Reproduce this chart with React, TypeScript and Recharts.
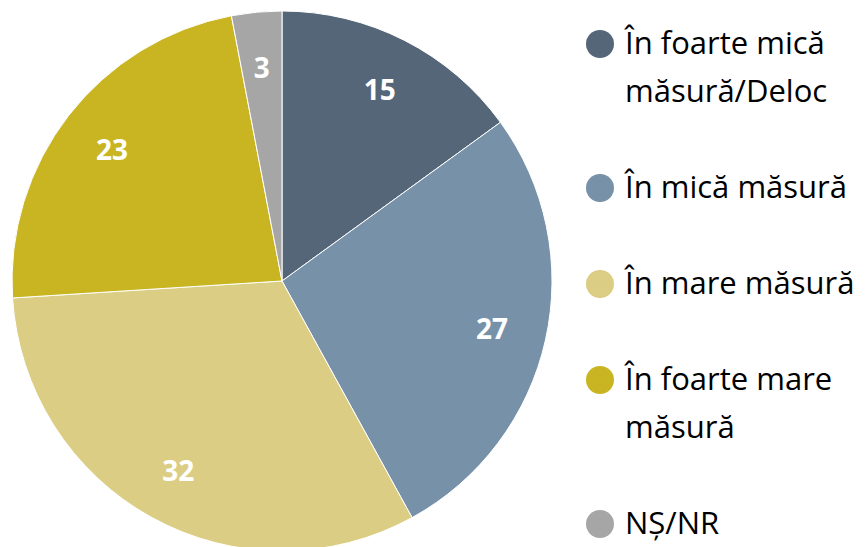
import React from 'react';
import { PieChart, Pie, Cell, Legend } from 'recharts';

const categories = [
  'În foarte mică măsură/Deloc',
  'În mică măsură',
  'În mare măsură',
  'În foarte mare măsură',
  'NȘ/NR',
];
const legendLines = [
  ['În foarte mică', 'măsură/Deloc'],
  ['În mică măsură'],
  ['În mare măsură'],
  ['În foarte mare', 'măsură'],
  ['NȘ/NR'],
];
const values = [15, 27, 32, 23, 3];
const colors = ['#556678', '#7691a8', '#dccd84', '#c9b522', '#a6a6a6'];

const data = categories.map((name, i) => ({ name, value: values[i] }));

const FONT = 'Open Sans, sans-serif';
const RAD = Math.PI / 180;

const renderLabel = (props: any) => {
  const { cx, cy, midAngle, outerRadius, value } = props;
  const r = outerRadius * 0.797;
  const x = cx + r * Math.cos(-midAngle * RAD);
  const y = cy + r * Math.sin(-midAngle * RAD);
  return (
    <text
      x={x}
      y={y}
      fill="#ffffff"
      textAnchor="middle"
      dominantBaseline="central"
      fontFamily={FONT}
      fontWeight={700}
      fontSize={28}
    >
      {value}
    </text>
  );
};

const renderLegend = () => {
  const LINE = 48;
  let y = 44;
  const items: React.ReactNode[] = [];
  legendLines.forEach((lines, i) => {
    items.push(
      <g key={i}>
        <circle cx={600} cy={y} r={14} fill={colors[i]} />
        {lines.map((t, j) => (
          <text
            key={j}
            x={625}
            y={y + 10 + j * LINE}
            fontFamily={FONT}
            fontSize={31}
            fill="#000000"
          >
            {t}
          </text>
        ))}
      </g>
    );
    y += lines.length * LINE + LINE;
  });
  return (
    <svg width={867} height={547} style={{ position: 'absolute', left: 0, top: 0 }}>
      {items}
    </svg>
  );
};

export default function App() {
  return (
    <div style={{ position: 'absolute', left: 0, top: 0, width: 867, height: 547, background: '#fff' }}>
      <PieChart width={867} height={547} margin={{ top: 0, right: 0, bottom: 0, left: 0 }}>
        <Pie
          data={data}
          dataKey="value"
          nameKey="name"
          cx={282}
          cy={281}
          outerRadius={270}
          startAngle={90}
          endAngle={-270}
          stroke="#ffffff"
          strokeWidth={1}
          label={renderLabel}
          labelLine={false}
          isAnimationActive={false}
        >
          {data.map((d, i) => (
            <Cell key={d.name} fill={colors[i]} />
          ))}
        </Pie>
        <Legend
          content={renderLegend}
          wrapperStyle={{ position: 'absolute', left: 0, top: 0, width: 867, height: 547 }}
        />
      </PieChart>
    </div>
  );
}
